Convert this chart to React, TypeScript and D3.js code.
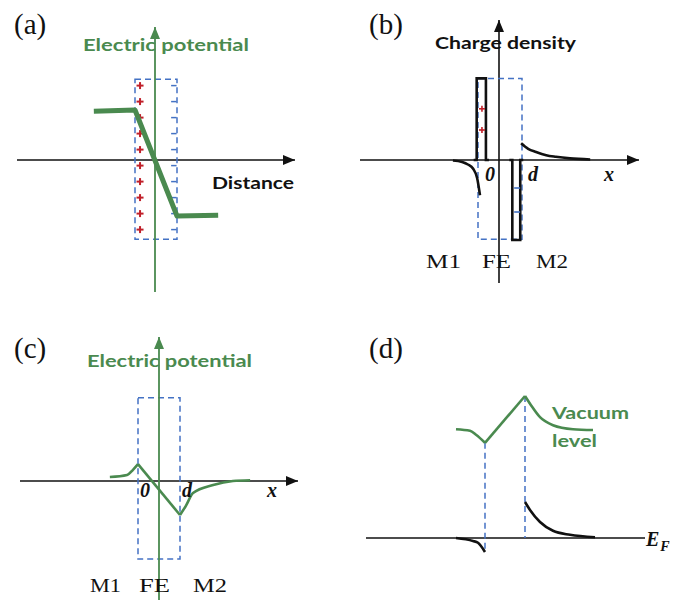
import React from 'react';
import * as d3 from 'd3';

type Pt = [number, number];

const GREEN = '#4a8a4f';
const BLUE = '#4472c4';
const RED = '#c0202a';
const INK = '#111111';

// x in units of the FE thickness d (0 = M1/FE, 1 = FE/M2), y in arbitrary units
// (a) electric potential, ideal electrodes
const potentialA: Pt[] = [[-0.98, 0.61], [0, 0.625], [1, -0.7], [1.98, -0.69]];
const plusA = [0.93, 0.73, 0.53, 0.33, 0.13, -0.07, -0.27, -0.47, -0.67, -0.87];
const minusA = [0.93, 0.73, 0.53, 0.33, 0.13, -0.07, -0.27, -0.47, -0.67, -0.87];

// (b) charge density
const barsB = [
  { from: -0.03, to: 0.18, value: 1.02 },
  { from: 0.78, to: 0.96, value: -1.0 },
];
const screenM1B: Pt[] = [[-0.57, -0.006], [-0.36, -0.025], [-0.23, -0.056], [-0.11, -0.11], [-0.02, -0.225], [0.045, -0.44]];
const screenM2B: Pt[] = [[0.98, 0.21], [1.14, 0.14], [1.32, 0.1], [1.55, 0.06], [1.77, 0.04], [2.09, 0.02], [2.55, 0.006]];
const plusB: Pt[] = [[0.09, 0.64], [0.09, 0.375]];
const minusB: Pt[] = [[0.89, -0.35], [0.89, -0.65]];

// (c) electric potential, real electrodes
const potLeftC: Pt[] = [[-0.67, 0.05], [-0.26, 0.075], [-0.12, 0.14], [0, 0.21]];
const potRampC: Pt[] = [[0, 0.21], [1, -0.425]];
const potRightC: Pt[] = [[1, -0.425], [1.14, -0.31], [1.31, -0.15], [1.79, -0.05], [2.26, 0], [2.67, 0.01]];

// (d) vacuum level and bands
const vacLeftD: Pt[] = [[-0.725, 1.36], [-0.375, 1.34], [-0.225, 1.29], [0, 1.19]];
const vacRampD: Pt[] = [[0, 1.19], [1, 1.775]];
const vacRightD: Pt[] = [[1, 1.775], [1.15, 1.66], [1.375, 1.51], [1.7, 1.41], [2.2, 1.36], [2.7, 1.35]];
const bandLeftD: Pt[] = [[-0.725, 0], [-0.3, -0.0375], [-0.175, -0.06], [0, -0.175]];
const bandRightD: Pt[] = [[1, 0.45], [1.125, 0.35], [1.375, 0.2], [1.7, 0.09], [2.125, 0.04], [2.75, 0.01]];
const guideD: Pt[] = [[0, 1.19], [1, 1.775]];
const guideBottomD = [-0.175, 0];

const layerLabels = ['M1', 'FE', 'M2'];

const makeScales = (x0: number, xUnit: number, y0: number, yUnit: number) => ({
  x: d3.scaleLinear().domain([0, 1]).range([x0, x0 + xUnit]),
  y: d3.scaleLinear().domain([0, 1]).range([y0, y0 - yUnit]),
});

const lineFor = (sc: any, curve: any = d3.curveLinear) =>
  d3.line<Pt>().x(d => sc.x(d[0])).y(d => sc.y(d[1])).curve(curve);

const serif = '"Liberation Serif", "Times New Roman", serif';
const sans = 'Lato, "Open Sans", sans-serif';

const Tag = ({ x, y, t }: { x: number; y: number; t: string }) => (
  <text x={x} y={y} fontFamily={serif} fontSize={29} fill={INK}>{t}</text>
);

const Bold = ({ x, y, t, w, fill }: { x: number; y: number; t: string; w: number; fill: string }) => (
  <text x={x} y={y} fontFamily={sans} fontWeight={700} fontSize={17} fill={fill}
    textLength={w} lengthAdjust="spacingAndGlyphs">{t}</text>
);

const Ital = ({ x, y, t }: { x: number; y: number; t: string }) => (
  <text x={x} y={y} fontFamily={serif} fontStyle="italic" fontWeight={700} fontSize={20} fill={INK}>{t}</text>
);

const Layers = ({ xs, y }: { xs: [number, number][]; y: number }) => (
  <g>
    {layerLabels.map((l, i) => (
      <text key={l} x={xs[i][0]} y={y} fontFamily={serif} fontSize={19} fill={INK}
        textLength={xs[i][1]} lengthAdjust="spacingAndGlyphs">{l}</text>
    ))}
  </g>
);

const Box = ({ sc, y1, y2 }: { sc: any; y1: number; y2: number }) => (
  <rect x={sc.x(0)} y={sc.y(y1)} width={sc.x(1) - sc.x(0)} height={sc.y(y2) - sc.y(y1)}
    fill="none" stroke={BLUE} strokeWidth={1.5} strokeDasharray="6,4" />
);

function PanelA() {
  const sc = makeScales(135, 42, 160, 80);
  const line = lineFor(sc);
  return (
    <g>
      <Tag x={14} y={34} t="(a)" />
      <line x1={17} y1={160} x2={295} y2={160} stroke={INK} strokeWidth={1.6} markerEnd="url(#arrK)" />
      <Box sc={sc} y1={1.01} y2={-0.99} />
      {plusA.map((v, i) => (
        <g key={i} stroke={RED} strokeWidth={2}>
          <line x1={sc.x(0.12) - 3.5} x2={sc.x(0.12) + 3.5} y1={sc.y(v)} y2={sc.y(v)} />
          <line x1={sc.x(0.12)} x2={sc.x(0.12)} y1={sc.y(v) - 3.5} y2={sc.y(v) + 3.5} />
        </g>
      ))}
      {minusA.map((v, i) => (
        <line key={i} x1={sc.x(0.86)} x2={sc.x(0.99)} y1={sc.y(v)} y2={sc.y(v)} stroke={BLUE} strokeWidth={1.5} />
      ))}
      <line x1={155} y1={292} x2={155} y2={27} stroke={GREEN} strokeWidth={1.8} markerEnd="url(#arrG)" />
      <path d={line(potentialA) || ''} fill="none" stroke={GREEN} strokeWidth={5} strokeLinejoin="round" />
      <Bold x={83} y={51} t="Electric potential" w={166} fill={GREEN} />
      <Bold x={212} y={189} t="Distance" w={82} fill={INK} />
    </g>
  );
}

function PanelB() {
  const sc = makeScales(478, 44, 160, 80);
  const curve = lineFor(sc, d3.curveMonotoneX);
  return (
    <g>
      <Tag x={369} y={34} t="(b)" />
      <line x1={360} y1={160} x2={639} y2={160} stroke={INK} strokeWidth={1.6} markerEnd="url(#arrK)" />
      <line x1={499} y1={283} x2={499} y2={20} stroke={INK} strokeWidth={1.6} markerEnd="url(#arrK)" />
      <Box sc={sc} y1={1.02} y2={-0.99} />
      {barsB.map((b, i) => (
        <path key={i}
          d={`M${sc.x(b.from) - 3},${sc.y(0)}H${sc.x(b.from)}V${sc.y(b.value)}H${sc.x(b.to)}V${sc.y(0)}H${sc.x(b.to) + 3}`}
          fill="none" stroke={INK} strokeWidth={2.6} />
      ))}
      {plusB.map((p, i) => (
        <g key={i} stroke={RED} strokeWidth={1.6}>
          <line x1={sc.x(p[0]) - 3} x2={sc.x(p[0]) + 3} y1={sc.y(p[1])} y2={sc.y(p[1])} />
          <line x1={sc.x(p[0])} x2={sc.x(p[0])} y1={sc.y(p[1]) - 3} y2={sc.y(p[1]) + 3} />
        </g>
      ))}
      {minusB.map((p, i) => (
        <line key={i} x1={sc.x(p[0]) - 3} x2={sc.x(p[0]) + 3} y1={sc.y(p[1])} y2={sc.y(p[1])} stroke={BLUE} strokeWidth={1.6} />
      ))}
      <path d={curve(screenM1B) || ''} fill="none" stroke={INK} strokeWidth={2.6} />
      <path d={curve(screenM2B) || ''} fill="none" stroke={INK} strokeWidth={2.6} />
      <Bold x={435} y={49} t="Charge density" w={141} fill={INK} />
      <Ital x={485} y={181} t="0" />
      <Ital x={528} y={181} t="d" />
      <Ital x={604} y={181} t="x" />
      <Layers xs={[[426, 35], [482, 29], [536, 32]]} y={268} />
    </g>
  );
}

function PanelC() {
  const sc = makeScales(138, 42, 481, 80);
  const curve = lineFor(sc, d3.curveMonotoneX);
  const straight = lineFor(sc);
  return (
    <g>
      <Tag x={14} y={358} t="(c)" />
      <line x1={20} y1={481} x2={298} y2={481} stroke={INK} strokeWidth={1.6} markerEnd="url(#arrK)" />
      <Box sc={sc} y1={1.04} y2={-0.975} />
      <line x1={159} y1={600} x2={159} y2={337} stroke={GREEN} strokeWidth={1.8} markerEnd="url(#arrG)" />
      <path d={curve(potLeftC) || ''} fill="none" stroke={GREEN} strokeWidth={2.6} />
      <path d={straight(potRampC) || ''} fill="none" stroke={GREEN} strokeWidth={2.6} strokeLinejoin="round" />
      <path d={curve(potRightC) || ''} fill="none" stroke={GREEN} strokeWidth={2.6} />
      <Bold x={87} y={367} t="Electric potential" w={165} fill={GREEN} />
      <Ital x={140} y={497} t="0" />
      <Ital x={182} y={497} t="d" />
      <Ital x={267} y={497} t="x" />
      <Layers xs={[[90, 31], [139, 31], [193, 34]]} y={592} />
    </g>
  );
}

function PanelD() {
  const sc = makeScales(485, 40, 538, 80);
  const curve = lineFor(sc, d3.curveMonotoneX);
  const straight = lineFor(sc);
  return (
    <g>
      <Tag x={369} y={358} t="(d)" />
      <line x1={366} y1={538} x2={645} y2={538} stroke={INK} strokeWidth={1.6} />
      {guideD.map((g, i) => (
        <line key={i} x1={sc.x(g[0])} x2={sc.x(g[0])} y1={sc.y(g[1])} y2={sc.y(guideBottomD[i])}
          stroke={BLUE} strokeWidth={1.5} strokeDasharray="6,4" />
      ))}
      <path d={curve(vacLeftD) || ''} fill="none" stroke={GREEN} strokeWidth={2.6} />
      <path d={straight(vacRampD) || ''} fill="none" stroke={GREEN} strokeWidth={2.6} />
      <path d={curve(vacRightD) || ''} fill="none" stroke={GREEN} strokeWidth={2.6} />
      <path d={curve(bandLeftD) || ''} fill="none" stroke={INK} strokeWidth={2.6} />
      <path d={curve(bandRightD) || ''} fill="none" stroke={INK} strokeWidth={2.6} />
      <Bold x={552} y={419} t="Vacuum" w={77} fill={GREEN} />
      <Bold x={552} y={447} t="level" w={45} fill={GREEN} />
      <text x={646} y={546} fontFamily={serif} fontStyle="italic" fontWeight={700} fontSize={20} fill={INK}>
        E<tspan fontSize={14} dy={5} dx={1}>F</tspan>
      </text>
    </g>
  );
}

export default function App() {
  return (
    <svg width={686} height={600} viewBox="0 0 686 600"
      style={{ position: 'absolute', left: 0, top: 0, background: '#fff' }}>
      <defs>
        <marker id="arrK" viewBox="0 0 12 10" refX={12} refY={5} markerWidth={12} markerHeight={10}
          markerUnits="userSpaceOnUse" orient="auto">
          <path d="M0,0L12,5L0,10z" fill={INK} />
        </marker>
        <marker id="arrG" viewBox="0 0 12 10" refX={12} refY={5} markerWidth={12} markerHeight={10}
          markerUnits="userSpaceOnUse" orient="auto">
          <path d="M0,0L12,5L0,10z" fill={GREEN} />
        </marker>
      </defs>
      <rect width={686} height={600} fill="#fff" />
      <PanelA />
      <PanelB />
      <PanelC />
      <PanelD />
    </svg>
  );
}
